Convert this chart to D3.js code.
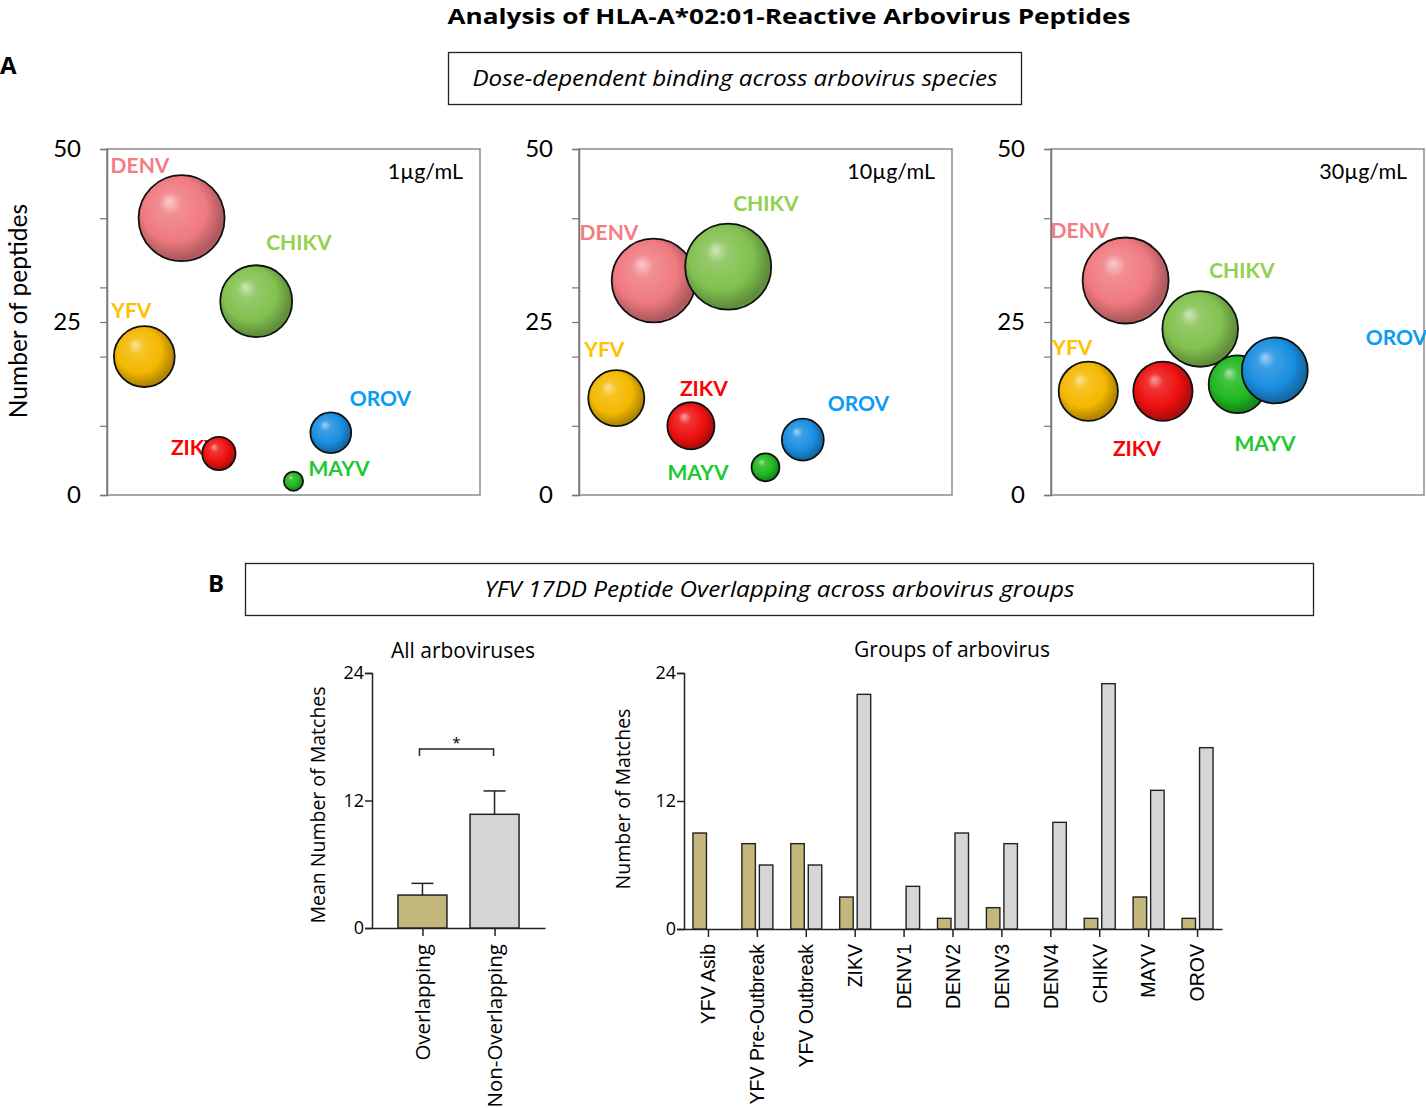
<!DOCTYPE html>
<html>
<head>
<meta charset="utf-8">
<script src="https://cdn.jsdelivr.net/npm/d3@7"></script>
<style>
  html, body { margin: 0; padding: 0; background: #fff; }
  svg { display: block; }
</style>
</head>
<body>
<svg id="chart" width="1426" height="1108"></svg>
<script>
// ---------------- DATA ----------------
const viruses = ["DENV", "CHIKV", "YFV", "ZIKV", "MAYV", "OROV"];
const virusSlot = [20, 40, 10, 30, 50, 60];          // horizontal slot (arbitrary units)
const concentrations = ["1µg/mL", "10µg/mL", "30µg/mL"];
const peptides1  = [40, 28, 20, 6, 2, 9];
const peptides10 = [31, 33, 14, 10, 4, 8];
const peptides30 = [31, 24, 15, 15, 16, 18];
const bubble1  = [40, 28, 20, 6, 2, 9];
const bubble10 = [38, 40, 17, 12, 4.2, 9.5];
const bubble30 = [40, 31, 19, 19, 18, 23.5];
const peptideTicks = [0, 10, 20, 25, 30, 40, 50];
const peptideTickLabels = [0, 25, 50];

const overlapGroups = ["Overlapping", "Non-Overlapping"];
const overlapMeans = [3.1, 10.7];
const overlapErrors = [1.1, 2.2];

const arboGroups = ["YFV Asib", "YFV Pre-Outbreak", "YFV Outbreak", "ZIKV", "DENV1", "DENV2", "DENV3", "DENV4", "CHIKV", "MAYV", "OROV"];
const overlappingMatches    = [9, 8, 8, 3, 0, 1, 2, 0, 1, 3, 1];
const nonOverlappingMatches = [0, 6, 6, 22, 4, 9, 8, 10, 23, 13, 17];
const matchTicks = [0, 12, 24];

// ---------------- STYLE / LAYOUT ----------------
const bubbleColors = { DENV: "#ef7a80", CHIKV: "#82c150", YFV: "#f4b800", ZIKV: "#ee1010", MAYV: "#20b820", OROV: "#1a8ee0" };
const labelColors  = { DENV: "#f47c82", CHIKV: "#92d050", YFV: "#ffc000", ZIKV: "#ff0000", MAYV: "#22c832", OROV: "#0a9cf5" };
// label offsets (px, relative to bubble centre; x = text start)
const labelOffsets = [
  { DENV: [-71, -52], CHIKV: [10, -58], YFV: [-33, -46], ZIKV: [-48, -5], MAYV: [15, -12], OROV: [19, -34] },
  { DENV: [-74, -47], CHIKV: [5, -63], YFV: [-32, -48], ZIKV: [-11, -37], MAYV: [-98, 6], OROV: [25, -36] },
  { DENV: [-75, -49], CHIKV: [9, -58], YFV: [-36, -43], ZIKV: [-50, 58], MAYV: [-3, 60], OROV: [91, -32] }
];
const panelLefts = [107, 579, 1051];
const panelW = 373, panelTop = 149, panelBottom = 495;

const svg = d3.select("#chart");
const defs = svg.append("defs");

// sphere gradients
viruses.forEach(v => {
  const base = d3.color(bubbleColors[v]);
  const g = defs.append("radialGradient").attr("id", "grad-" + v)
    .attr("cx", "45%").attr("cy", "45%").attr("r", "60%")
    .attr("fx", "35%").attr("fy", "30%");
  g.append("stop").attr("offset", "0%").attr("stop-color", d3.interpolateRgb(base, "#ffffff")(0.6));
  g.append("stop").attr("offset", "22%").attr("stop-color", d3.interpolateRgb(base, "#ffffff")(0.15));
  g.append("stop").attr("offset", "62%").attr("stop-color", base.formatHex());
  g.append("stop").attr("offset", "90%").attr("stop-color", base.darker(0.9).formatHex());
  g.append("stop").attr("offset", "100%").attr("stop-color", base.darker(0.5).formatHex());
});

// ---------------- TITLES ----------------
svg.append("text").attr("x", 789).attr("y", 24).attr("text-anchor", "middle")
  .attr("font-family", "Open Sans").attr("font-weight", "bold").attr("font-size", 22)
  .attr("textLength", 683).attr("lengthAdjust", "spacingAndGlyphs")
  .text("Analysis of HLA-A*02:01-Reactive Arbovirus Peptides");

svg.append("text").attr("x", 0).attr("y", 74)
  .attr("font-family", "Open Sans").attr("font-weight", "bold").attr("font-size", 24).text("A");
svg.append("text").attr("x", 208).attr("y", 592)
  .attr("font-family", "Open Sans").attr("font-weight", "bold").attr("font-size", 24).text("B");

function boxTitle(x, y, w, h, txt, len) {
  svg.append("rect").attr("x", x).attr("y", y).attr("width", w).attr("height", h)
    .attr("fill", "none").attr("stroke", "#222").attr("stroke-width", 1.3);
  svg.append("text").attr("x", x + w / 2).attr("y", y + h / 2 + 7).attr("text-anchor", "middle")
    .attr("font-family", "Open Sans").attr("font-style", "italic").attr("font-size", 21)
    .attr("textLength", len).attr("lengthAdjust", "spacingAndGlyphs").text(txt);
}
boxTitle(448.5, 52.5, 573, 52, "Dose-dependent binding across arbovirus species", 525);
boxTitle(245.5, 563.5, 1068, 52, "YFV 17DD Peptide Overlapping across arbovirus groups", 590);

// ---------------- PANEL A ----------------
const peptideSets = [peptides1, peptides10, peptides30];
const bubbleSets = [bubble1, bubble10, bubble30];
const rScale = d3.scaleSqrt().domain([0, 40]).range([0, 43]);
const yA = d3.scaleLinear().domain([0, 50]).range([panelBottom, panelTop]);

concentrations.forEach((conc, ci) => {
  const left = panelLefts[ci];
  const xA = d3.scaleLinear().domain([0, 100]).range([left, left + panelW]);
  const g = svg.append("g");

  // frame
  g.append("rect").attr("x", left).attr("y", panelTop).attr("width", panelW).attr("height", panelBottom - panelTop)
    .attr("fill", "none").attr("stroke", "#8a8a8a").attr("stroke-width", 1.5);

  // y axis
  const axis = d3.axisLeft(yA).tickValues(peptideTicks).tickSize(7)
    .tickFormat(d => peptideTickLabels.includes(d) ? d : "");
  const ag = g.append("g").attr("transform", `translate(${left},0)`).call(axis);
  ag.select(".domain").attr("stroke", "#777").attr("stroke-width", 1.5);
  ag.selectAll(".tick line").attr("stroke", "#777").attr("stroke-width", 1.2);
  ag.selectAll(".tick text").attr("x", -26).attr("font-family", "Lato").attr("font-size", 24).attr("fill", "#000");

  // concentration label
  g.append("text").attr("x", left + panelW - 17).attr("y", panelTop + 30).attr("text-anchor", "end")
    .attr("font-family", "Lato").attr("font-size", 21.5).text(conc);

  const data = viruses.map((v, i) => ({ v, x: virusSlot[i], y: peptideSets[ci][i], s: bubbleSets[ci][i] }));

  // labels (drawn first, bubbles may cover)
  g.selectAll(".vlab").data(data).enter().append("text")
    .attr("x", d => xA(d.x) + labelOffsets[ci][d.v][0])
    .attr("y", d => yA(d.y) + labelOffsets[ci][d.v][1] + 7)
    .attr("font-family", "Lato").attr("font-weight", "bold").attr("font-size", 21)
    .attr("fill", d => labelColors[d.v]).text(d => d.v);

  // bubbles
  g.selectAll(".bub").data(data).enter().append("circle")
    .attr("cx", d => xA(d.x)).attr("cy", d => yA(d.y)).attr("r", d => rScale(d.s))
    .attr("fill", d => `url(#grad-${d.v})`).attr("stroke", "#111").attr("stroke-width", 1.8);
});

svg.append("text").attr("transform", "translate(27,311) rotate(-90)").attr("text-anchor", "middle")
  .attr("font-family", "Lato").attr("font-size", 24.5).text("Number of peptides");

// ---------------- PANEL B ----------------
const khaki = "#c3b77c", grey = "#d6d6d6";

// left: All arboviruses
const yB1 = d3.scaleLinear().domain([0, 24]).range([928, 673]);
const xB1 = d3.scalePoint().domain(overlapGroups).range([372, 545]).padding(0.7);
const gL = svg.append("g");
const yAx1 = gL.append("g").attr("transform", "translate(372,0)")
  .call(d3.axisLeft(yB1).tickValues(matchTicks).tickSize(7));
const xAx1 = gL.append("g").attr("transform", "translate(0,928)")
  .call(d3.axisBottom(xB1).tickSize(8).tickSizeOuter(0));
[yAx1, xAx1].forEach(a => {
  a.select(".domain").attr("stroke", "#222").attr("stroke-width", 1.5);
  a.selectAll(".tick line").attr("stroke", "#222").attr("stroke-width", 1.5);
});
yAx1.selectAll(".tick text").attr("font-family", "Open Sans").attr("font-size", 18).attr("fill", "#000").attr("x", -8);
xAx1.selectAll(".tick text").attr("font-family", "Open Sans").attr("font-size", 20.5).attr("fill", "#000")
  .attr("transform", "rotate(-90)").attr("text-anchor", "end").attr("x", -16).attr("y", 0).attr("dy", "0.35em");

const bw1 = 49;
overlapGroups.forEach((grp, i) => {
  const cx = xB1(grp);
  // error bar
  gL.append("line").attr("x1", cx).attr("x2", cx).attr("y1", yB1(overlapMeans[i])).attr("y2", yB1(overlapMeans[i] + overlapErrors[i]))
    .attr("stroke", "#222").attr("stroke-width", 1.5);
  gL.append("line").attr("x1", cx - 11).attr("x2", cx + 11).attr("y1", yB1(overlapMeans[i] + overlapErrors[i])).attr("y2", yB1(overlapMeans[i] + overlapErrors[i]))
    .attr("stroke", "#222").attr("stroke-width", 1.5);
  gL.append("rect").attr("x", cx - bw1 / 2).attr("y", yB1(overlapMeans[i])).attr("width", bw1)
    .attr("height", yB1(0) - yB1(overlapMeans[i]))
    .attr("fill", i === 0 ? khaki : grey).attr("stroke", "#222").attr("stroke-width", 1.5);
});
// significance bracket
const bx1 = xB1(overlapGroups[0]) - 3, bx2 = xB1(overlapGroups[1]) - 1, by = 749;
gL.append("path").attr("d", `M${bx1},${by + 7}V${by}H${bx2}V${by + 7}`).attr("fill", "none").attr("stroke", "#222").attr("stroke-width", 1.5);
gL.append("text").attr("x", (bx1 + bx2) / 2).attr("y", by - 1).attr("text-anchor", "middle")
  .attr("font-family", "Open Sans").attr("font-size", 15).text("*");
gL.append("text").attr("x", 463).attr("y", 658).attr("text-anchor", "middle")
  .attr("font-family", "Open Sans").attr("font-size", 21).text("All arboviruses");
gL.append("text").attr("transform", "translate(325,805) rotate(-90)").attr("text-anchor", "middle")
  .attr("font-family", "Open Sans").attr("font-size", 19.5).text("Mean Number of Matches");

// right: Groups of arbovirus
const yB2 = d3.scaleLinear().domain([0, 24]).range([929, 673]);
const xB2 = d3.scaleBand().domain(arboGroups).range([684, 1222]).padding(0);
const gR = svg.append("g");
const yAx2 = gR.append("g").attr("transform", "translate(684,0)")
  .call(d3.axisLeft(yB2).tickValues(matchTicks).tickSize(7));
const xAx2 = gR.append("g").attr("transform", "translate(0,929)")
  .call(d3.axisBottom(xB2).tickSize(8).tickSizeOuter(0));
[yAx2, xAx2].forEach(a => {
  a.select(".domain").attr("stroke", "#222").attr("stroke-width", 1.5);
  a.selectAll(".tick line").attr("stroke", "#222").attr("stroke-width", 1.5);
});
yAx2.selectAll(".tick text").attr("font-family", "Open Sans").attr("font-size", 18).attr("fill", "#000").attr("x", -8);
xAx2.selectAll(".tick text").attr("font-family", "Liberation Sans, Arial").attr("font-size", 19.5).attr("fill", "#000")
  .attr("transform", "rotate(-90)").attr("text-anchor", "end").attr("x", -15).attr("y", 0).attr("dy", "0.35em");

const bw2 = 13.5;
arboGroups.forEach((grp, i) => {
  const cx = xB2(grp) + xB2.bandwidth() / 2;
  if (overlappingMatches[i] > 0) {
    gR.append("rect").attr("x", cx - 15.5).attr("y", yB2(overlappingMatches[i])).attr("width", bw2)
      .attr("height", yB2(0) - yB2(overlappingMatches[i])).attr("fill", khaki).attr("stroke", "#222").attr("stroke-width", 1.4);
  }
  if (nonOverlappingMatches[i] > 0) {
    gR.append("rect").attr("x", cx + 2).attr("y", yB2(nonOverlappingMatches[i])).attr("width", bw2)
      .attr("height", yB2(0) - yB2(nonOverlappingMatches[i])).attr("fill", grey).attr("stroke", "#222").attr("stroke-width", 1.4);
  }
});
gR.append("text").attr("x", 952).attr("y", 657).attr("text-anchor", "middle")
  .attr("font-family", "Open Sans").attr("font-size", 21).text("Groups of arbovirus");
gR.append("text").attr("transform", "translate(630,799) rotate(-90)").attr("text-anchor", "middle")
  .attr("font-family", "Open Sans").attr("font-size", 19.5).text("Number of Matches");
</script>
</body>
</html>
